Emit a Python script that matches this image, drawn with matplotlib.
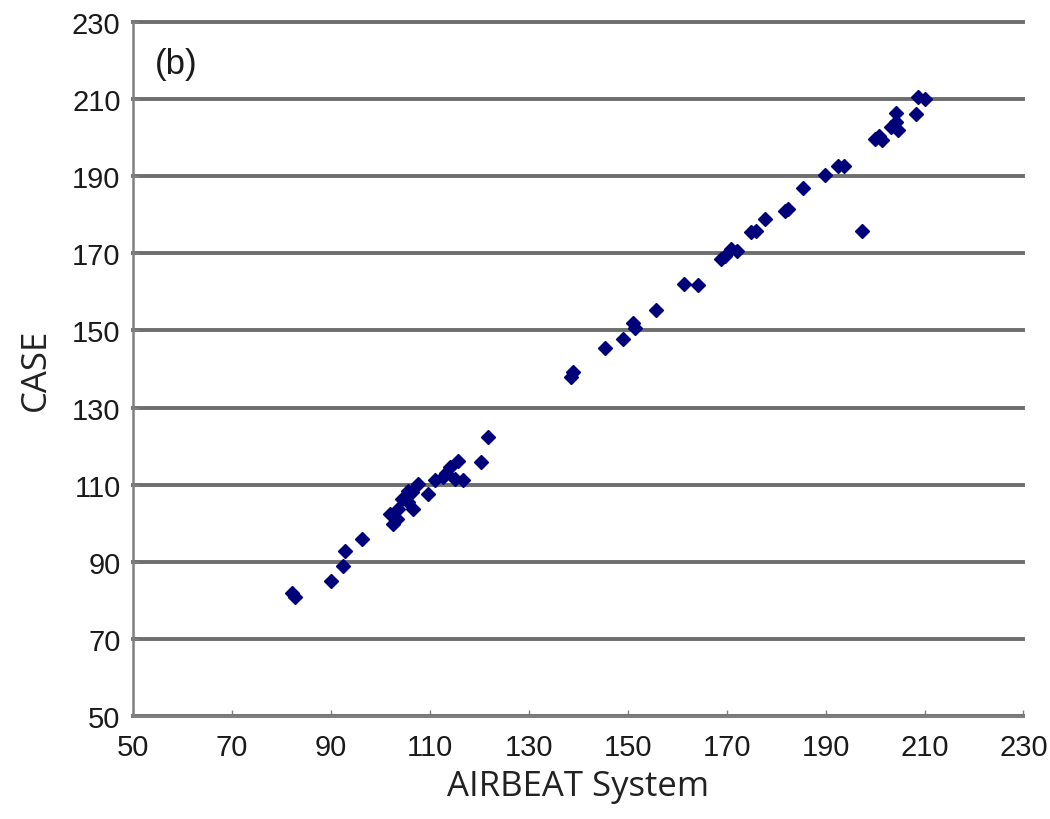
import matplotlib.pyplot as plt

# AIRBEAT system readings vs CASE readings
airbeat = [82.1, 82.8, 90.1, 92.5, 92.8, 96.2, 101.9, 102.6, 103.3, 103.6,
           104.3, 105.6, 105.6, 106.3, 106.6, 107.6, 109.7, 111.0, 112.7, 113.2,
           114.0, 115.0, 115.7, 116.7, 120.3, 121.8, 138.6, 138.9, 145.4, 149.1,
           151.4, 151.0, 155.8, 161.3, 164.2, 168.9, 169.6, 170.9, 172.0, 175.0,
           176.0, 177.7, 181.7, 182.4, 185.4, 189.8, 192.5, 193.8, 197.4, 199.9,
           200.9, 201.5, 203.2, 204.3, 204.3, 204.6, 208.3, 208.6, 210.0]
case = [82.0, 80.8, 84.9, 89.0, 92.8, 96.0, 102.4, 99.8, 101.2, 103.7,
        106.3, 105.4, 108.4, 108.0, 103.7, 110.2, 107.6, 111.1, 111.9, 113.0,
        114.5, 111.5, 116.2, 111.1, 116.0, 122.3, 138.0, 139.2, 145.4, 147.8,
        150.6, 151.8, 155.4, 162.0, 161.8, 168.5, 169.4, 171.1, 170.7, 175.5,
        175.9, 178.9, 181.1, 181.5, 186.9, 190.2, 192.7, 192.7, 175.9, 199.7,
        200.5, 199.5, 202.7, 204.0, 206.4, 201.9, 206.1, 210.5, 210.0]
ticks = list(range(50, 231, 20))

fig = plt.figure(figsize=(10.5, 8.2), dpi=100)
ax = fig.add_axes([0.1267, 0.1256, 0.848, 0.8464])

ax.plot(airbeat, case, ls='', marker='D', ms=7.4, color='#00007a', zorder=3)

ax.set_xlim(50, 230)
ax.set_ylim(50, 230)
ax.set_xticks(ticks)
ax.set_yticks(ticks)
ax.yaxis.grid(True, color='#6e6e6e', lw=2.8, clip_on=False)
ax.set_axisbelow(True)

for s in ['top', 'right']:
    ax.spines[s].set_visible(False)
for s in ['left', 'bottom']:
    ax.spines[s].set_color('#808080')
    ax.spines[s].set_linewidth(1.8)

ax.tick_params(axis='both', direction='in', length=4, width=1, color='#808080',
               labelsize=21)
ax.tick_params(axis='x', pad=12)
ax.tick_params(axis='y', pad=9)
for lab in ax.get_xticklabels() + ax.get_yticklabels():
    lab.set_family('Liberation Sans')
    lab.set_color('#1a1a1a')

ax.set_xlabel('AIRBEAT System', fontsize=25, family='Open Sans', color='#222222', labelpad=6)
ax.set_ylabel('CASE', fontsize=25, family='Open Sans', color='#222222', labelpad=14)

ax.text(0.024, 0.94, '(b)', transform=ax.transAxes, fontsize=25,
        family='Liberation Sans', color='#1a1a1a', va='center', ha='left')

fig.savefig('out.png', dpi=100)
